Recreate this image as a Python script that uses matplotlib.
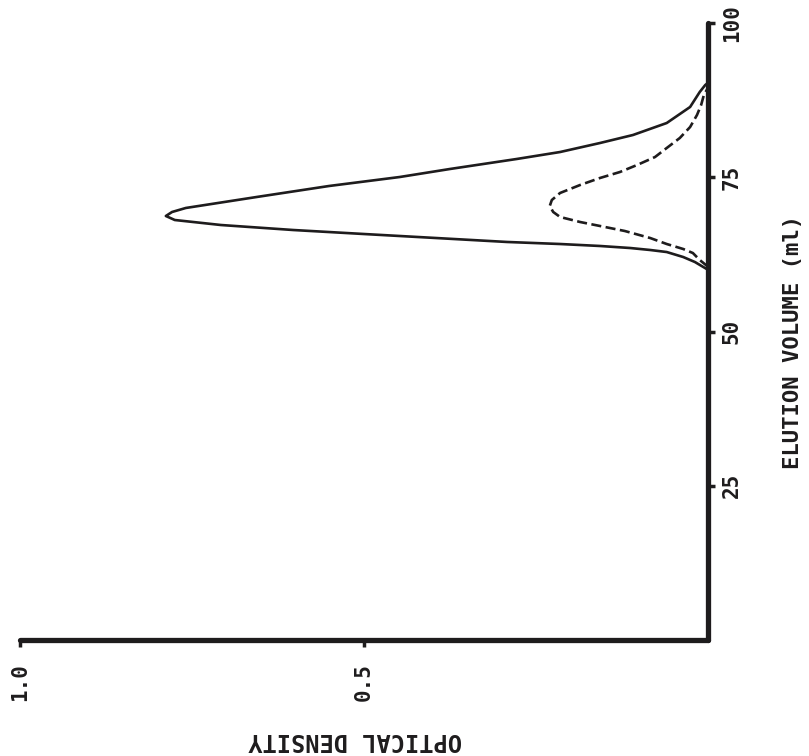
import matplotlib
matplotlib.use('Agg')
import matplotlib.pyplot as plt

# Elution volume (ml) and optical density
sol_v = [60.0, 61.26, 62.07, 62.88, 63.21, 63.53, 63.86, 64.18, 64.51, 65.15, 65.80,
         66.45, 67.26, 68.07, 68.72, 69.37, 70.02, 71.80, 73.58, 75.04, 76.34, 77.96,
         79.09, 80.55, 81.85, 83.79, 86.39, 88.82, 89.95, 90.3]
sol_od = [0.0, 0.019, 0.036, 0.060, 0.084, 0.113, 0.157, 0.215, 0.292, 0.395, 0.500,
          0.603, 0.708, 0.775, 0.788, 0.779, 0.759, 0.656, 0.551, 0.448, 0.375, 0.278,
          0.215, 0.157, 0.109, 0.060, 0.026, 0.012, 0.004, 0.0]

dash_v = [60.5, 61.59, 62.72, 63.37, 64.18, 65.15, 66.29, 67.10, 67.75, 68.56, 69.37,
          70.34, 71.31, 72.45, 73.74, 74.88, 75.85, 76.99, 78.28, 79.74, 81.36, 83.14,
          85.09, 86.71, 88.33, 89.5]
dash_od = [0.0, 0.012, 0.022, 0.036, 0.060, 0.084, 0.121, 0.157, 0.186, 0.215, 0.225,
           0.230, 0.227, 0.215, 0.186, 0.157, 0.128, 0.103, 0.077, 0.060, 0.041, 0.026,
           0.016, 0.010, 0.006, 0.0]

vol_ticks = [25, 50, 75, 100]
vol_labels = ['25', '50', '75', '100']
od_ticks = [0.5, 1.0]
od_labels = ['0.5', '1.0']

INK = '#1e1c1d'
FONT = dict(family='DejaVu Sans Mono', weight='bold')

fig = plt.figure(figsize=(8.09, 7.56), dpi=100)
fig.patch.set_facecolor('white')
ax = fig.add_axes([20/809, 116/756, 688/809, 617/756])

ax.plot(sol_od, sol_v, color=INK, lw=1.9, solid_joinstyle='round')
ax.plot(dash_od, dash_v, color=INK, lw=1.9, linestyle=(0, (3.8, 1.7)))

ax.set_xlim(1.0, 0.0)
ax.set_ylim(0, 100)

for s in ['top', 'left']:
    ax.spines[s].set_visible(False)
for s in ['right', 'bottom']:
    ax.spines[s].set_linewidth(3.8)
    ax.spines[s].set_color(INK)
    ax.spines[s].set_capstyle('round')

ax.yaxis.tick_right()
ax.set_yticks(vol_ticks)
ax.set_yticklabels(vol_labels, rotation=90, va='center', color=INK, fontsize=15, **FONT)
ax.set_xticks(od_ticks)
ax.set_xticklabels(od_labels, rotation=90, ha='center', va='top', color=INK, fontsize=15, **FONT)
ax.tick_params(axis='y', direction='out', length=5, width=2.5, color=INK, pad=5)
ax.tick_params(axis='x', direction='out', length=5, width=2.5, color=INK, pad=12)

ax.set_xlabel('OPTICAL DENSITY', rotation=180, fontsize=17, color=INK,
              va='center', ha='center', **FONT)
ax.xaxis.set_label_coords(0.487, -0.162)
ax.yaxis.set_label_position('right')
ax.set_ylabel('ELUTION VOLUME (ml)', rotation=90, fontsize=16, color=INK,
              va='center', ha='center', **FONT)
ax.yaxis.set_label_coords(1.1235, 0.483)

fig.savefig('out.png', dpi=100, facecolor='white')
